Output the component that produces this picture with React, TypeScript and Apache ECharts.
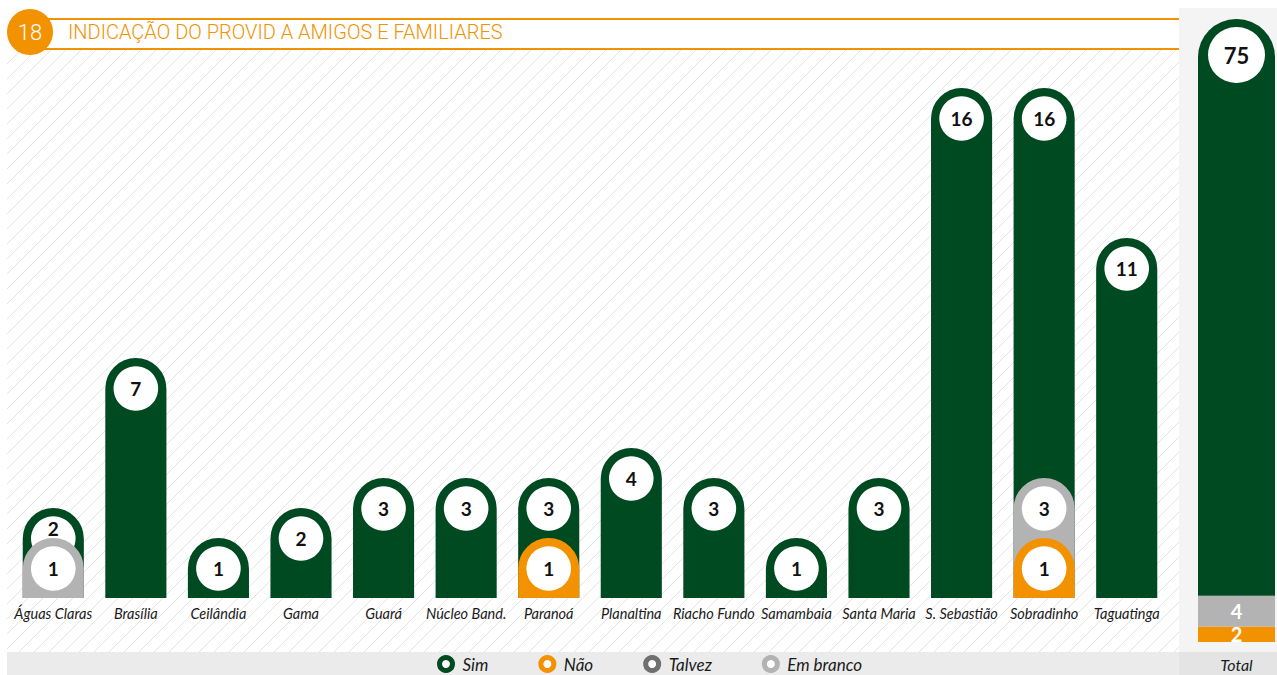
import React, { useEffect, useRef } from "react";
import * as echarts from "echarts";

const categories = [
  "Águas Claras", "Brasília", "Ceilândia", "Gama", "Guará", "Núcleo Band.", "Paranoá",
  "Planaltina", "Riacho Fundo", "Samambaia", "Santa Maria", "S. Sebastião", "Sobradinho", "Taguatinga",
];
const simValues = [2, 7, 1, 2, 3, 3, 3, 4, 3, 1, 3, 16, 16, 11];
const naoValues = [0, 0, 0, 0, 0, 0, 1, 0, 0, 0, 0, 0, 1, 0];
const talvezValues = [0, 0, 0, 0, 0, 0, 0, 0, 0, 0, 0, 0, 0, 0];
const brancoValues = [1, 0, 0, 0, 0, 0, 0, 0, 0, 0, 0, 0, 3, 0];

const totalCategory = ["Total"];
const totalSim = [75];
const totalNao = [2];
const totalTalvez = [0];
const totalBranco = [4];

const GREEN = "#004a22";
const ORANGE = "#f39200";
const DARKGRAY = "#6f6f6f";
const LIGHTGRAY = "#b3b3b3";

const LABEL_FONT = "Lato";

export default function App() {
  const ref = useRef<HTMLDivElement>(null);

  useEffect(() => {
    if (!ref.current) return;
    const chart = echarts.init(ref.current, undefined, { renderer: "svg" });

    const allOverlays = [naoValues, talvezValues, brancoValues];

    const makeRender = (color: string, isMain: boolean) => (params: any, api: any) => {
      const idx = api.value(0);
      const v = api.value(1);
      if (!v) return null;
      const top = api.coord([idx, v]);
      const base = api.coord([idx, -1]);
      const bw = api.size([1, 0])[0] * 0.74;
      const r = bw / 2;
      const x = top[0] - r;
      let ty = top[1] + r;
      if (isMain) {
        let maxOther = 0;
        allOverlays.forEach((arr) => { if (arr[idx] > maxOther) maxOther = arr[idx]; });
        if (maxOther > 0 && maxOther >= v - 1) {
          const otherTop = api.coord([idx, maxOther])[1];
          ty = otherTop - 10;
        }
      }
      return {
        type: "group",
        children: [
          {
            type: "rect",
            shape: { x, y: top[1], width: bw, height: base[1] - top[1], r: [r, r, 0, 0] },
            style: { fill: color },
          },
          {
            type: "circle",
            shape: { cx: top[0], cy: top[1] + r, r: r * 0.73 },
            style: { fill: "#fff" },
          },
          {
            type: "text",
            x: top[0],
            y: ty,
            style: {
              text: String(v),
              fill: "#111",
              font: `bold 19px ${LABEL_FONT}`,
              align: "center",
              verticalAlign: "middle",
            },
          },
        ],
      };
    };

    const toData = (arr: number[]) => arr.map((v, i) => [i, v]);

    // hatch lines
    const hatch: any[] = [];
    const hx0 = 7, hx1 = 1179, hy0 = 49, hy1 = 652;
    for (let c = hx0 + hy0; c <= hx1 + hy1; c += 15) {
      const xa = Math.max(hx0, c - hy1);
      const xb = Math.min(hx1, c - hy0);
      if (xa < xb) {
        hatch.push({
          type: "line",
          silent: true,
          z: -10,
          shape: { x1: xa, y1: c - xa, x2: xb, y2: c - xb },
          style: { stroke: "#e4e4e4", lineWidth: 1 },
        });
      }
    }

    const totalLabelWhite = {
      show: true,
      position: "inside",
      color: "#fff",
      fontFamily: LABEL_FONT,
      fontWeight: "bold",
      fontSize: 20,
      lineHeight: 14,
      formatter: (p: any) => (p.value ? String(p.value) : ""),
    };

    const option: any = {
      animation: false,
      backgroundColor: "#fff",
      graphic: [
        { type: "rect", z: -20, silent: true, shape: { x: 1179, y: 8, width: 98, height: 644 }, style: { fill: "#f4f4f4" } },
        { type: "rect", z: -20, silent: true, shape: { x: 7, y: 652, width: 1172, height: 23 }, style: { fill: "#ebebeb" } },
        { type: "rect", z: -20, silent: true, shape: { x: 1179, y: 652, width: 98, height: 23 }, style: { fill: "#e4e4e4" } },
        ...hatch,
        { type: "line", z: 5, silent: true, shape: { x1: 30, y1: 19, x2: 1179, y2: 19 }, style: { stroke: ORANGE, lineWidth: 2 } },
        { type: "line", z: 5, silent: true, shape: { x1: 30, y1: 49, x2: 1179, y2: 49 }, style: { stroke: ORANGE, lineWidth: 2 } },
        { type: "circle", z: 6, silent: true, shape: { cx: 30, cy: 32, r: 23 }, style: { fill: ORANGE } },
        {
          type: "text", z: 7, silent: true, x: 30, y: 32,
          style: { text: "18", fill: "#fff", font: "300 22px Roboto", align: "center", verticalAlign: "middle" },
        },
        {
          type: "text", z: 7, silent: true, x: 68, y: 32,
          style: { text: "INDICAÇÃO DO PROVID A AMIGOS E FAMILIARES", fill: ORANGE, font: "300 20px Roboto", align: "left", verticalAlign: "middle" },
        },
      ],
      legend: {
        left: 437,
        top: 655,
        padding: 0,
        itemWidth: 13,
        itemHeight: 13,
        itemGap: 50,
        icon: "circle",
        selectedMode: false,
        textStyle: { fontFamily: LABEL_FONT, fontStyle: "italic", fontSize: 17, lineHeight: 18, color: "#1a1a1a", padding: [0, 0, 0, 5] },
        data: [
          { name: "Sim", itemStyle: { color: "#fff", borderColor: GREEN, borderWidth: 5 } },
          { name: "Não", itemStyle: { color: "#fff", borderColor: ORANGE, borderWidth: 5 } },
          { name: "Talvez", itemStyle: { color: "#fff", borderColor: DARKGRAY, borderWidth: 5 } },
          { name: "Em branco", itemStyle: { color: "#fff", borderColor: LIGHTGRAY, borderWidth: 5 } },
        ],
      },
      grid: [
        { left: 12, right: 109, top: 58, bottom: 77 },
        { left: 1198, width: 77, top: 19, bottom: 33 },
      ],
      xAxis: [
        {
          type: "category",
          gridIndex: 0,
          data: categories,
          axisLine: { show: false },
          axisTick: { show: false },
          axisLabel: { interval: 0, margin: 8, fontFamily: LABEL_FONT, fontStyle: "italic", fontSize: 14.5, color: "#1a1a1a" },
        },
        {
          type: "category",
          gridIndex: 1,
          data: totalCategory,
          axisLine: { show: false },
          axisTick: { show: false },
          axisLabel: { margin: 14, fontFamily: LABEL_FONT, fontStyle: "italic", fontSize: 16, color: "#1a1a1a" },
        },
      ],
      yAxis: [
        { type: "value", gridIndex: 0, min: -1, max: 17, show: false },
        { type: "value", gridIndex: 1, min: 0, max: 81, show: false },
      ],
      series: [
        { name: "Sim", type: "custom", xAxisIndex: 0, yAxisIndex: 0, z: 2, itemStyle: { color: GREEN }, renderItem: makeRender(GREEN, true), data: toData(simValues), encode: { x: 0, y: 1 } },
        { name: "Em branco", type: "custom", xAxisIndex: 0, yAxisIndex: 0, z: 3, itemStyle: { color: LIGHTGRAY }, renderItem: makeRender(LIGHTGRAY, false), data: toData(brancoValues), encode: { x: 0, y: 1 } },
        { name: "Talvez", type: "custom", xAxisIndex: 0, yAxisIndex: 0, z: 4, itemStyle: { color: DARKGRAY }, renderItem: makeRender(DARKGRAY, false), data: toData(talvezValues), encode: { x: 0, y: 1 } },
        { name: "Não", type: "custom", xAxisIndex: 0, yAxisIndex: 0, z: 5, itemStyle: { color: ORANGE }, renderItem: makeRender(ORANGE, false), data: toData(naoValues), encode: { x: 0, y: 1 } },

        { name: "Não", type: "bar", xAxisIndex: 1, yAxisIndex: 1, stack: "total", barWidth: 77, itemStyle: { color: ORANGE }, label: totalLabelWhite, data: totalNao },
        { name: "Em branco", type: "bar", xAxisIndex: 1, yAxisIndex: 1, stack: "total", barWidth: 77, itemStyle: { color: LIGHTGRAY }, label: totalLabelWhite, data: totalBranco },
        { name: "Talvez", type: "bar", xAxisIndex: 1, yAxisIndex: 1, stack: "total", barWidth: 77, itemStyle: { color: DARKGRAY }, label: totalLabelWhite, data: totalTalvez },
        {
          name: "Sim", type: "bar", xAxisIndex: 1, yAxisIndex: 1, stack: "total", barWidth: 77,
          itemStyle: { color: GREEN, borderRadius: [38, 38, 0, 0] },
          label: {
            show: true,
            position: "insideTop",
            distance: 8,
            formatter: "{c}",
            backgroundColor: "#fff",
            borderRadius: 28,
            width: 57,
            height: 56,
            lineHeight: 56,
            align: "center",
            color: "#111",
            fontFamily: LABEL_FONT,
            fontWeight: "bold",
            fontSize: 22,
          },
          data: totalSim,
        },
      ],
    };

    chart.setOption(option);
    return () => chart.dispose();
  }, []);

  return (
    <div
      ref={ref}
      style={{ position: "absolute", left: 0, top: 0, width: 1277, height: 675, background: "#fff" }}
    />
  );
}
